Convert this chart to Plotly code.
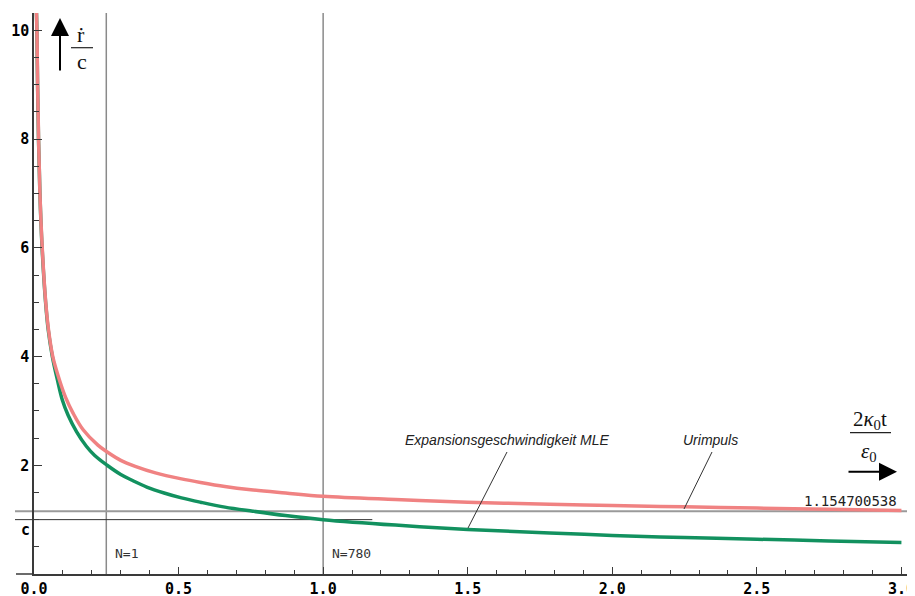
import plotly.graph_objects as go

# ---------------- data ----------------
x_urimpuls = [0.0085, 0.0102, 0.0125, 0.0158, 0.0205, 0.0285, 0.0405, 0.050, 0.065, 0.088,
              0.110, 0.135, 0.17, 0.221, 0.253, 0.30, 0.35, 0.42, 0.51, 0.576, 0.66, 0.75,
              0.87, 1.0, 1.25, 1.5, 1.784, 2.0, 2.25, 2.5, 2.75, 3.0]
y_urimpuls = [10.32, 10.0, 9.0, 8.0, 7.0, 6.0, 5.0, 4.5, 4.0, 3.57,
              3.24, 2.96, 2.653, 2.37, 2.245, 2.09, 1.98, 1.86, 1.75, 1.684, 1.61, 1.55,
              1.49, 1.43, 1.37, 1.32, 1.283, 1.26, 1.236, 1.213, 1.19, 1.168]

x_mle = [0.0085, 0.0100, 0.0123, 0.0156, 0.0204, 0.0280, 0.040, 0.049, 0.0635, 0.081,
         0.098, 0.118, 0.147, 0.181, 0.21, 0.253, 0.30, 0.341, 0.39, 0.45, 0.51, 0.576,
         0.66, 0.757, 0.87, 1.0, 1.25, 1.5, 1.784, 2.0, 2.25, 2.5, 2.75, 3.0]
y_mle = [10.32, 10.0, 9.0, 8.0, 7.0, 6.0, 5.0, 4.5, 4.0, 3.57,
         3.2, 2.92, 2.62, 2.35, 2.18, 2.0, 1.83, 1.72, 1.6, 1.49, 1.40, 1.32,
         1.23, 1.155, 1.075, 1.0, 0.9, 0.82, 0.755, 0.71, 0.67, 0.64, 0.608, 0.58]

asymptote_value = 1.154700538
c_value = 1.0
c_line_end = 1.17
n_marks_x = [0.25, 1.0]
n_marks_text = ["N=1", "N=780"]
x_tick_vals = [0.0, 0.5, 1.0, 1.5, 2.0, 2.5, 3.0]
y_tick_vals = [2, 4, 6, 8, 10]
x_range = [0, 3.04]
y_range = [0, 10.32]

label_mle = "Expansionsgeschwindigkeit MLE"
label_urimpuls = "Urimpuls"

# ---------------- layout helpers ----------------
# the page body has an 8px margin, so the figure is made 8px smaller
PAGE_OFF = 8
WIDTH, HEIGHT = 915 - PAGE_OFF, 596 - PAGE_OFF
L, R, T, B = 26, 2, 5, 22
PW = WIDTH - L - R
PH = HEIGHT - T - B


def pxx(p):
    """reference-screen x pixel -> paper"""
    return (p - PAGE_OFF - L) / PW


def pxy(p):
    """reference-screen y pixel -> paper"""
    return (HEIGHT - B - (p - PAGE_OFF)) / PH


RED = "#f08282"
GREEN = "#12915f"
AXIS = "#3a3a3a"
MONO = "DejaVu Sans Mono"
SERIF = "Liberation Serif"
SANS = "Liberation Sans"

fig = go.Figure()

fig.add_trace(go.Scatter(x=x_mle, y=y_mle, mode="lines",
                         line=dict(color=GREEN, width=3.5, shape="spline", smoothing=1.0),
                         name=label_mle, hoverinfo="skip"))
fig.add_trace(go.Scatter(x=x_urimpuls, y=y_urimpuls, mode="lines",
                         line=dict(color=RED, width=3.5, shape="spline", smoothing=1.0),
                         name=label_urimpuls, hoverinfo="skip"))

shapes = []
# vertical N markers
for xv in n_marks_x:
    shapes.append(dict(type="line", xref="x", yref="paper", x0=xv, x1=xv, y0=0, y1=1,
                       line=dict(color="#8a8a8a", width=1.5), layer="below"))
# asymptote line
shapes.append(dict(type="line", xref="paper", yref="y", x0=pxx(15), x1=1.01,
                   y0=asymptote_value, y1=asymptote_value,
                   line=dict(color="#9a9a9a", width=1.8), layer="below"))
# c line
shapes.append(dict(type="line", xref="paper", yref="y", x0=pxx(15),
                   x1=(c_line_end - x_range[0]) / (x_range[1] - x_range[0]),
                   y0=c_value, y1=c_value,
                   line=dict(color="#333333", width=1), layer="below"))
# x axis extension to the left
shapes.append(dict(type="line", xref="paper", yref="paper", x0=pxx(16), x1=0, y0=0, y1=0,
                   line=dict(color=AXIS, width=1.5)))
# pointer lines
shapes.append(dict(type="line", xref="paper", yref="paper", x0=pxx(507), y0=pxy(452),
                   x1=pxx(468), y1=pxy(528), line=dict(color="#333333", width=1)))
shapes.append(dict(type="line", xref="paper", yref="paper", x0=pxx(712), y0=pxy(452),
                   x1=pxx(684), y1=pxy(509), line=dict(color="#333333", width=1)))
# fraction bars
shapes.append(dict(type="line", xref="paper", yref="paper", x0=pxx(71), x1=pxx(93),
                   y0=pxy(47.7), y1=pxy(47.7), line=dict(color="#222222", width=1.2)))
shapes.append(dict(type="line", xref="paper", yref="paper", x0=pxx(850), x1=pxx(891),
                   y0=pxy(432.7), y1=pxy(432.7), line=dict(color="#222222", width=1.2)))

annotations = []
for xv, txt in zip(n_marks_x, n_marks_text):
    annotations.append(dict(x=xv, xref="x", xshift=7, y=pxy(553), yref="paper",
                            text=txt, showarrow=False, xanchor="left", yanchor="middle",
                            font=dict(family=MONO, size=13, color="#333333")))
annotations.append(dict(x=pxx(899), xref="paper", y=pxy(501), yref="paper",
                        text="1.154700538", showarrow=False, xanchor="right", yanchor="middle",
                        font=dict(family=MONO, size=14, color="#222222")))
annotations.append(dict(x=pxx(25), xref="paper", y=pxy(530), yref="paper", text="c",
                        showarrow=False, xanchor="center", yanchor="middle",
                        font=dict(family=MONO, size=15, color="black", weight="bold")))
annotations.append(dict(x=pxx(507.5), xref="paper", y=pxy(440), yref="paper", text=f"<i>{label_mle}</i>",
                        showarrow=False, xanchor="center", yanchor="middle",
                        font=dict(family=SANS, size=14, color="#222222")))
annotations.append(dict(x=pxx(710), xref="paper", y=pxy(440), yref="paper", text=f"<i>{label_urimpuls}</i>",
                        showarrow=False, xanchor="center", yanchor="middle",
                        font=dict(family=SANS, size=14, color="#222222")))
# y quantity  r-dot / c
annotations.append(dict(x=pxx(81), xref="paper", y=pxy(34), yref="paper", text="ṙ",
                        showarrow=False, xanchor="center", yanchor="middle",
                        font=dict(family=SERIF, size=22, color="#111111")))
annotations.append(dict(x=pxx(82), xref="paper", y=pxy(61), yref="paper", text="c",
                        showarrow=False, xanchor="center", yanchor="middle",
                        font=dict(family=SERIF, size=22, color="#111111")))
# x quantity 2 kappa0 t / eps0
annotations.append(dict(x=pxx(870), xref="paper", y=pxy(420), yref="paper",
                        text="2<i>κ</i><sub>0</sub>t",
                        showarrow=False, xanchor="center", yanchor="middle",
                        font=dict(family=SERIF, size=21, color="#111111")))
annotations.append(dict(x=pxx(869), xref="paper", y=pxy(452), yref="paper",
                        text="<i>ε</i><sub>0</sub>",
                        showarrow=False, xanchor="center", yanchor="middle",
                        font=dict(family=SERIF, size=21, color="#111111")))
# arrows
annotations.append(dict(x=pxx(60), xref="paper", y=pxy(18), yref="paper", text="",
                        showarrow=True, ax=0, ay=54, arrowhead=2, arrowsize=1.8,
                        arrowwidth=2, arrowcolor="#000000"))
annotations.append(dict(x=pxx(897), xref="paper", y=pxy(471.7), yref="paper", text="",
                        showarrow=True, ax=-50, ay=0, arrowhead=2, arrowsize=1.8,
                        arrowwidth=2, arrowcolor="#000000"))

fig.update_layout(
    width=WIDTH, height=HEIGHT,
    margin=dict(l=L, r=R, t=T, b=B, pad=0, autoexpand=False),
    plot_bgcolor="white", paper_bgcolor="white",
    showlegend=False,
    shapes=shapes, annotations=annotations,
    xaxis=dict(range=x_range, showline=True, linecolor=AXIS, linewidth=1.5,
               ticks="inside", ticklen=7, tickwidth=1.2, tickcolor=AXIS,
               tickvals=x_tick_vals, ticktext=[f"{v:.1f}" for v in x_tick_vals],
               tickfont=dict(family=MONO, size=15, color="black", weight="bold"),
               minor=dict(dtick=0.1, tick0=0, ticklen=4, ticks="inside", tickcolor=AXIS, tickwidth=1),
               showgrid=False, zeroline=False, automargin=False),
    yaxis=dict(range=y_range, showline=True, linecolor=AXIS, linewidth=1.5,
               ticks="inside", ticklen=8, tickwidth=1.2, tickcolor=AXIS,
               tickvals=y_tick_vals, ticktext=[str(v) for v in y_tick_vals],
               tickfont=dict(family=MONO, size=15, color="black", weight="bold"),
               minor=dict(dtick=0.5, tick0=0, ticklen=5, ticks="inside", tickcolor=AXIS, tickwidth=1),
               showgrid=False, zeroline=False, automargin=False),
)

fig.write_html("out.html")
